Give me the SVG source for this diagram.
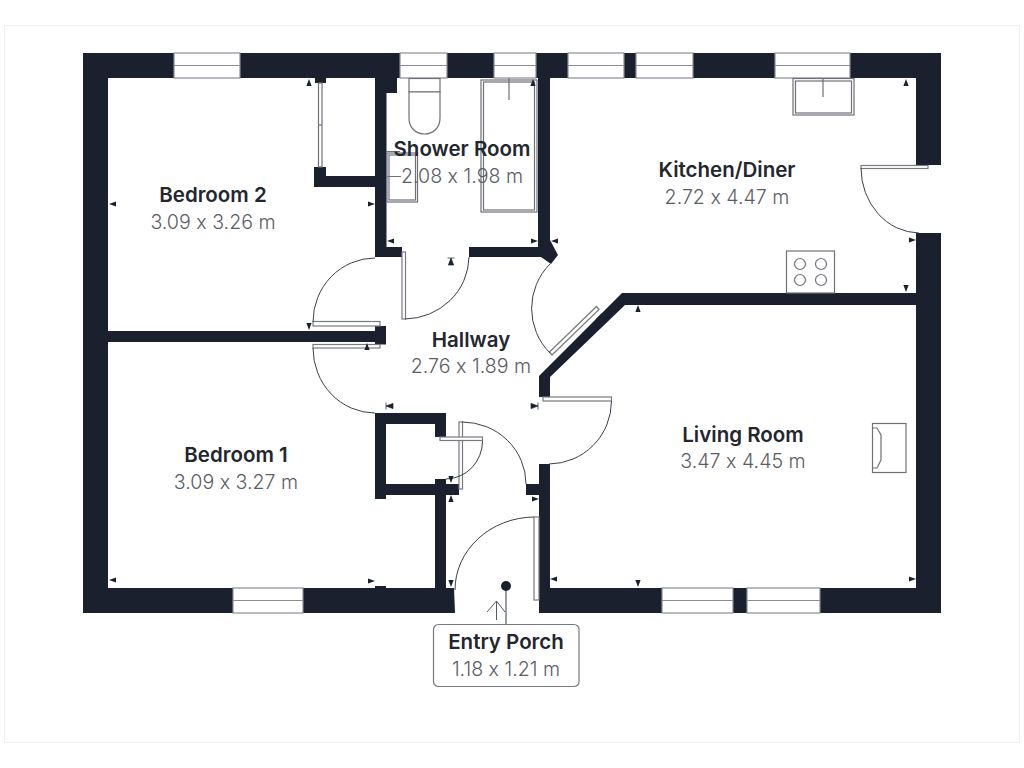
<svg xmlns="http://www.w3.org/2000/svg" width="1024" height="768" viewBox="0 0 1024 768">
<style>
.w{fill:#1a202e}
.win{fill:#fff;stroke:#8a8d94;stroke-width:1.2}
.leaf{fill:#fff;stroke:#777a80;stroke-width:1.2}
.arc{fill:none;stroke:#3a3f4a;stroke-width:1}
.fx{fill:#fff;stroke:#6e7178;stroke-width:1.2}
.ln{fill:none;stroke:#6e7178;stroke-width:1.2}
.t{font-family:Inter,"Liberation Sans",sans-serif;font-weight:600;font-size:20.5px;fill:#23262f;text-anchor:middle}
.s{font-family:Inter,"Liberation Sans",sans-serif;font-weight:300;font-size:19.6px;fill:#5a5d66;text-anchor:middle;font-feature-settings:"calt" 0}
</style>
<defs>
<path id="m" d="M0 0L7-2.6V2.6Z" fill="#1a202e"/>
<path id="b" d="M0-3.5V3.5M0 0L7-2.6V2.6Z" fill="#1a202e" stroke="#1a202e" stroke-width=".7"/>
</defs>
<rect width="1024" height="768" fill="#fff"/>
<rect x="4.500" y="25.500" width="1015" height="717" fill="none" stroke="#f0f0f0"/>
<g id="walls" class="w">
<rect x="83" y="53" width="858" height="25"/>
<rect x="83" y="53" width="25" height="560"/>
<rect x="916" y="53" width="25" height="112"/>
<rect x="916" y="233" width="25" height="380"/>
<path d="M83 588H454L455 613H83Z"/>
<rect x="539" y="588" width="402" height="25"/>
<rect x="375" y="78" width="11.500" height="179"/>
<rect x="386" y="78" width="11" height="15"/>
<rect x="314" y="176" width="61" height="11"/>
<rect x="314" y="167" width="12" height="20"/>
<rect x="315" y="78" width="11" height="5"/>
<rect x="375" y="247" width="27" height="10"/>
<rect x="469" y="247" width="78" height="10"/>
<path d="M538 78H550V240L558 255L551 264L541 257H538Z"/>
<rect x="108" y="331" width="268" height="11"/>
<rect x="375" y="326" width="11" height="18.500"/>
<path d="M622 293H916V305H625L550 377V397H539V376Z"/>
<path d="M375 413H446V437H435V424H386V484H435V479H446V484H459V495H386V499H375Z"/>
<rect x="435" y="490" width="11" height="100"/>
<rect x="539" y="464" width="11" height="126"/>
<rect x="526" y="484" width="14" height="11"/>
<rect x="375" y="586" width="11" height="3"/>
<path d="M596 319L602 313L606 317L600 323Z"/>
</g>
<g id="windows" class="win">
<rect x="174" y="53" width="66" height="25"/><path d="M174 65.500H240"/>
<rect x="400" y="53" width="47" height="25"/><path d="M400 65.500H447"/>
<rect x="494" y="53" width="42" height="25"/><path d="M494 65.500H536"/>
<rect x="568" y="53" width="56" height="25"/><path d="M568 65.500H624"/>
<rect x="636" y="53" width="57" height="25"/><path d="M636 65.500H693"/>
<rect x="775" y="53" width="75" height="25"/><path d="M775 65.500H850"/>
<rect x="233" y="588" width="70" height="25"/><path d="M233 600.500H303"/>
<rect x="662" y="588" width="71" height="25"/><path d="M662 600.500H733"/>
<rect x="747" y="588" width="73" height="25"/><path d="M747 600.500H820"/>
</g>
<g id="doors">
<g class="leaf">
<rect x="402" y="252" width="3.500" height="67"/>
<rect x="313" y="321.500" width="67" height="4.500"/>
<rect x="313" y="344.500" width="67" height="3.500"/>
<path d="M549.500 352L596.500 306.500L599 309.500L552 355Z"/>
<rect x="543" y="397" width="68.500" height="4"/>
<rect x="459" y="422" width="3.500" height="67"/>
<rect x="440" y="437" width="42.500" height="3.500"/>
<rect x="534" y="517" width="5" height="83"/>
<rect x="861" y="165.500" width="67" height="3"/>
</g>
<g class="arc">
<path d="M405 319A65 63 0 0 0 469 257"/>
<path d="M375 258A62 64 0 0 0 313 322"/>
<path d="M313 348A62 65 0 0 0 375 413"/>
<path d="M550 353A63 63 0 0 1 550 264"/>
<path d="M611.500 401A63 63 0 0 1 549 464"/>
<path d="M462 422A64 62 0 0 1 526 484"/>
<path d="M482.500 441A37 38 0 0 1 446 479"/>
<path d="M534 517A80 73 0 0 0 455 590"/>
<path d="M861 168A59 65 0 0 0 919 233"/>
</g>
</g>
<g id="fixtures">
<rect class="fx" x="409" y="78.500" width="31" height="13.500"/>
<path class="fx" d="M409 92V118C409 128 416 134 424.500 134C433 134 440 128 440 118V92Z"/>
<rect class="fx" x="481" y="80" width="56" height="132"/>
<rect class="fx" x="483.500" y="82" width="51" height="128"/>
<path class="ln" d="M509 78V100"/>
<rect class="fx" x="387" y="153" width="30.500" height="49"/>
<rect class="fx" x="389" y="155" width="26.500" height="45"/>
<path class="ln" d="M386 151.500H400M386 176.500H401"/>
<rect class="fx" x="318.500" y="83" width="3.500" height="84"/>
<path class="ln" d="M318 125H322"/>
<rect class="fx" x="793" y="78.500" width="61" height="36.500"/>
<rect class="fx" x="795.500" y="81" width="56" height="32"/>
<path class="ln" d="M823 78V97"/>
<g>
<rect class="fx" x="786.500" y="251" width="48" height="42"/>
<circle class="fx" cx="800" cy="264" r="5.500"/>
<circle class="fx" cx="821" cy="264" r="5.500"/>
<circle class="fx" cx="800" cy="280" r="5.500"/>
<circle class="fx" cx="821" cy="280" r="5.500"/>
</g>
<rect class="fx" x="872.500" y="423.500" width="33.500" height="49"/>
<path class="ln" d="M872.500 428H877L881 435V460L877 468H872.500"/>
</g>
<g id="ticks">
<use href="#m" transform="translate(109 204)"/>
<use href="#m" transform="translate(375 204) rotate(180)"/>
<use href="#m" transform="translate(309 79) rotate(90)"/>
<use href="#m" transform="translate(387 241)"/>
<use href="#m" transform="translate(538 241) rotate(180)"/>
<use href="#m" transform="translate(533 79) rotate(90)"/>
<use href="#m" transform="translate(551 241)"/>
<use href="#m" transform="translate(906 79) rotate(90)"/>
<use href="#m" transform="translate(916 240) rotate(180)"/>
<use href="#m" transform="translate(906 292) rotate(-90)"/>
<use href="#b" transform="translate(451 258) rotate(90)"/>
<use href="#b" transform="translate(386 406)"/>
<use href="#b" transform="translate(538 406) rotate(180)"/>
<use href="#m" transform="translate(309 330) rotate(-90)"/>
<use href="#m" transform="translate(367 343) rotate(90)"/>
<use href="#m" transform="translate(451 483) rotate(-90)"/>
<use href="#m" transform="translate(451 495) rotate(90)"/>
<use href="#m" transform="translate(539 499) rotate(180)"/>
<use href="#m" transform="translate(451 587) rotate(-90)"/>
<use href="#m" transform="translate(550 579)"/>
<use href="#m" transform="translate(375 581) rotate(180)"/>
<use href="#m" transform="translate(638 587) rotate(-90)"/>
<use href="#m" transform="translate(916 579) rotate(180)"/>
<use href="#m" transform="translate(638 305) rotate(90)"/>
<use href="#m" transform="translate(109 580)"/>
</g>
<g id="entry">
<path d="M496.500 620V601M487 612L496.500 601L505 612" fill="none" stroke="#555963" stroke-width="1"/>
<path d="M506 586V625" stroke="#555963" stroke-width="1.200"/>
<circle cx="506" cy="586" r="5" fill="#1a202e"/>
<rect x="433.500" y="624.500" width="145.500" height="62" rx="5" fill="#fff" stroke="#777a80" stroke-width="1.200"/>
</g>
<g id="labels">
<text class="t" x="213" y="201.500">Bedroom 2</text><text class="s" x="213" y="229">3.09 x 3.26 m</text>
<text class="t" x="462" y="155.500">Shower Room</text><text class="s" x="462" y="183">2.08 x 1.98 m</text>
<text class="t" x="727" y="176.500">Kitchen/Diner</text><text class="s" x="727" y="204">2.72 x 4.47 m</text>
<text class="t" x="471" y="346.500">Hallway</text><text class="s" x="471" y="373">2.76 x 1.89 m</text>
<text class="t" x="743" y="441.500">Living Room</text><text class="s" x="743" y="468">3.47 x 4.45 m</text>
<text class="t" x="236" y="461.500">Bedroom 1</text><text class="s" x="236" y="489">3.09 x 3.27 m</text>
<text class="t" x="506" y="648.500">Entry Porch</text><text class="s" x="506" y="676">1.18 x 1.21 m</text>
</g>
</svg>
